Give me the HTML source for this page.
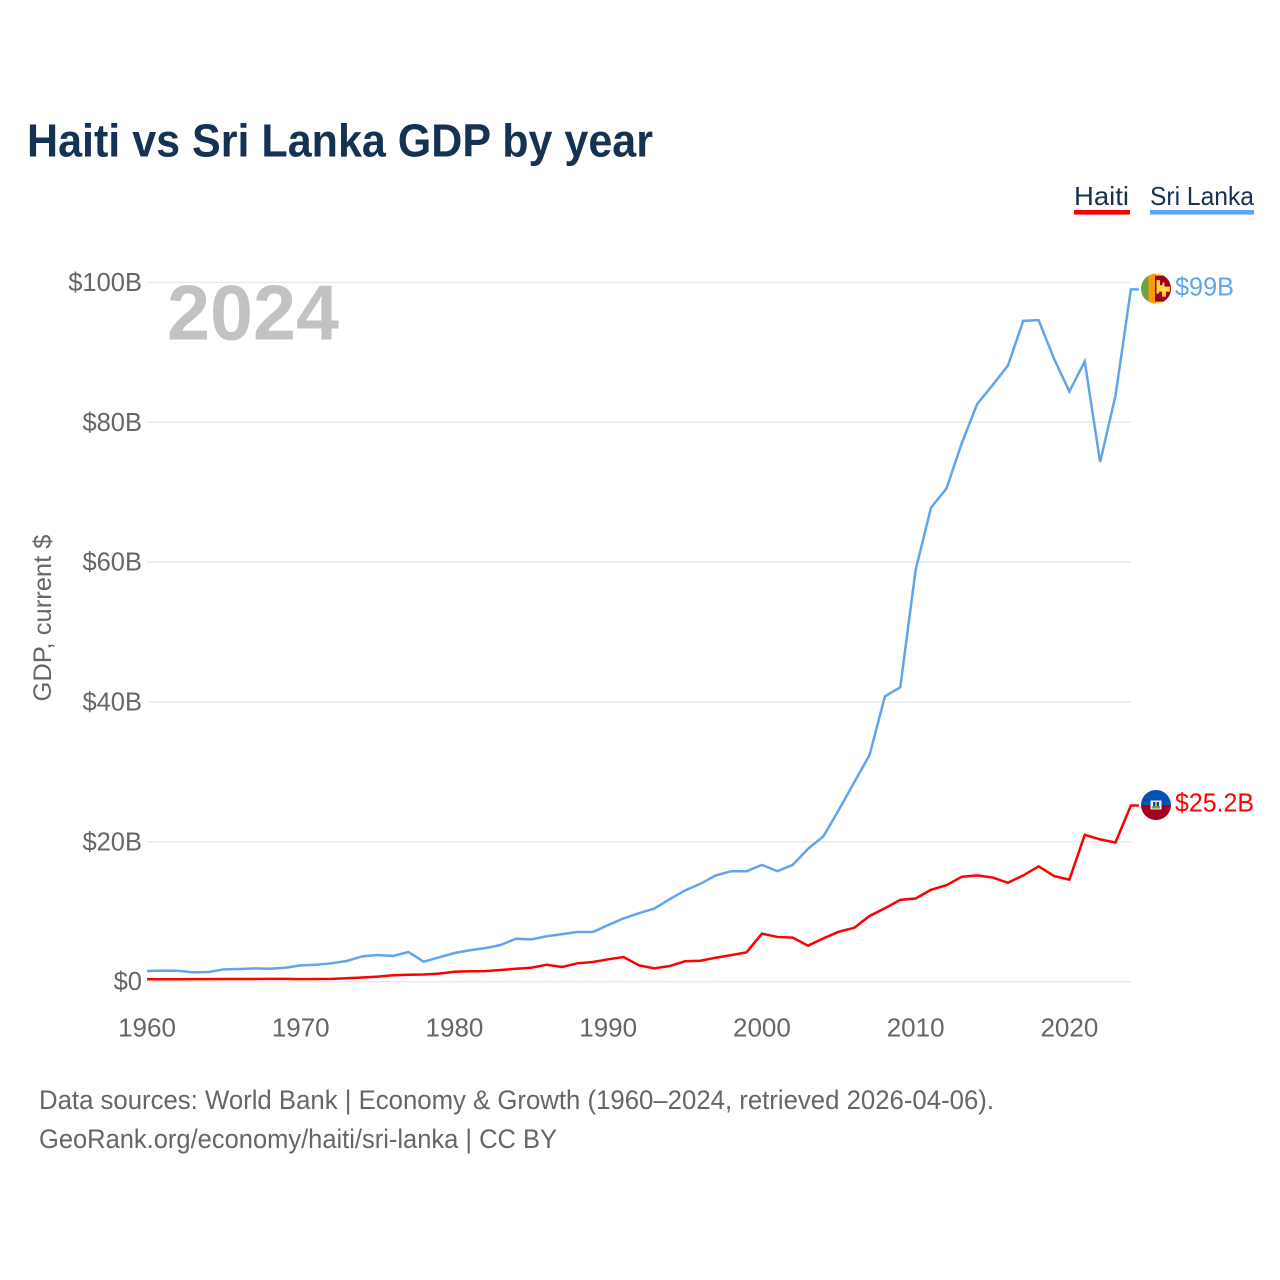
<!DOCTYPE html>
<html lang="en">
<head>
<meta charset="utf-8">
<title>Haiti vs Sri Lanka GDP by year</title>
<style>
html,body{margin:0;padding:0;background:#fff;}
svg{display:block;font-family:"Liberation Sans",sans-serif;}
</style>
</head>
<body>
<svg id="chart" xmlns="http://www.w3.org/2000/svg" width="1280" height="1280" viewBox="0 0 1280 1280">
  <defs>
    <clipPath id="flag-clip"><circle cx="0" cy="0" r="15"/></clipPath>
  </defs>
  <rect x="0" y="0" width="1280" height="1280" fill="#ffffff"/>
  <text x="27" y="156.5" font-size="46" font-weight="700" fill="#163253" textLength="626" lengthAdjust="spacingAndGlyphs">Haiti vs Sri Lanka GDP by year</text>

  <g>
    <g>
      <text x="1074" y="205" font-size="26" fill="#163253" textLength="55" lengthAdjust="spacingAndGlyphs">Haiti</text>
      <rect x="1074" y="210" width="56" height="4.6" fill="#ff0000"/>
    </g>
    <g>
      <text x="1150" y="205" font-size="26" fill="#163253" textLength="104" lengthAdjust="spacingAndGlyphs">Sri Lanka</text>
      <rect x="1150" y="210" width="104" height="4.6" fill="#60a5ec"/>
    </g>
  </g>

  <g id="grid"></g>
  <g id="y-ticks"></g>
  <g id="x-ticks"></g>
  <text transform="translate(51,618) rotate(-90)" text-anchor="middle" font-size="25" fill="#666666" textLength="167" lengthAdjust="spacingAndGlyphs">GDP, current $</text>
  <text id="year-label" x="167" y="339.5" font-size="78" font-weight="700" fill="#c2c2c2" textLength="172" lengthAdjust="spacingAndGlyphs">2024</text>
  <g id="series"></g>

  <g id="flag-sri-lanka">
    <g clip-path="url(#flag-clip)">
      <rect x="-15" y="-16" width="30" height="32" fill="#ffda44"/>
      <rect x="-15" y="-16" width="7.5" height="32" fill="#6da544"/>
      <rect x="-7.5" y="-16" width="7" height="32" fill="#ff9811"/>
      <rect x="-1" y="-13" width="16" height="26" fill="#a2001d"/>
      <path d="M0.5,-8.5H4V-3.5H6.5V-6H8.5V-2H14V3H10V8H6V3H3V5H0.5Z" fill="#ffda44"/>
    </g>
  </g>
  <g id="flag-haiti">
    <g clip-path="url(#flag-clip)">
      <rect x="-15" y="-16" width="30" height="16" fill="#0052b4"/>
      <rect x="-15" y="0" width="30" height="16" fill="#a2001d"/>
      <rect x="-5.5" y="-4.5" width="11" height="9" fill="#f0f0f0"/>
      <rect x="-3" y="-3" width="6" height="4.5" fill="#0052b4"/>
      <rect x="-1" y="-3" width="2" height="4.5" fill="#ff9811"/>
      <rect x="-4" y="1.5" width="8" height="2" fill="#6da544"/>
    </g>
  </g>
  <text id="value-sri-lanka" x="1175" font-size="26" fill="#60a5ec" textLength="59" lengthAdjust="spacingAndGlyphs">$99B</text>
  <text id="value-haiti" x="1175" font-size="26" fill="#ff0000" textLength="79" lengthAdjust="spacingAndGlyphs">$25.2B</text>

  <g>
    <text x="39" y="1109" font-size="27" fill="#666666" textLength="955" lengthAdjust="spacingAndGlyphs">Data sources: World Bank | Economy &amp; Growth (1960–2024, retrieved 2026-04-06).</text>
    <text x="39" y="1148" font-size="27" fill="#666666" textLength="518" lengthAdjust="spacingAndGlyphs">GeoRank.org/economy/haiti/sri-lanka | CC BY</text>
  </g>
</svg>
<script>
var startYear = 1960;
var xTickYears = [1960, 1970, 1980, 1990, 2000, 2010, 2020];
var yTickValues = [0, 20, 40, 60, 80, 100];
var yTickLabels = ["$0", "$20B", "$40B", "$60B", "$80B", "$100B"];
var sriLankaValues = [
  1.53, 1.58, 1.56, 1.34, 1.39, 1.77, 1.82, 1.91, 1.86, 2.0,
  2.34, 2.43, 2.63, 2.96, 3.63, 3.82, 3.68, 4.25, 2.86, 3.49,
  4.1, 4.5, 4.8, 5.25, 6.15, 6.05, 6.5, 6.8, 7.1, 7.1,
  8.1, 9.05, 9.8, 10.45, 11.8, 13.05, 14.0, 15.2, 15.8, 15.8,
  16.7, 15.8, 16.7, 19.0, 20.8, 24.55, 28.5, 32.4, 40.8, 42.1,
  58.9, 67.8, 70.5, 77.0, 82.6, 85.3, 88.1, 94.5, 94.6, 89.1,
  84.4, 88.7, 74.3, 83.8, 99.0
];
var haitiValues = [
  0.35, 0.35, 0.35, 0.36, 0.36, 0.38, 0.39, 0.39, 0.4, 0.41,
  0.36, 0.38, 0.41, 0.5, 0.6, 0.72, 0.92, 1.0, 1.03, 1.15,
  1.43, 1.5, 1.52, 1.67, 1.85, 2.0, 2.43, 2.1, 2.63, 2.82,
  3.2, 3.53, 2.34, 1.9, 2.24, 2.92, 3.0, 3.43, 3.8, 4.2,
  6.87, 6.4, 6.3, 5.15, 6.2, 7.15, 7.7, 9.4, 10.5, 11.7,
  11.9, 13.15, 13.8, 15.0, 15.2, 14.9, 14.15, 15.2, 16.5, 15.1,
  14.6, 21.0, 20.35, 19.9, 25.2
];

var SVG_NS = "http://www.w3.org/2000/svg";
function xScale(year) { return 147 + (year - 1960) * 15.373; }
function yScale(value) { return 981.7 - value * 6.993; }
function make(tag, attrs, parent) {
  var node = document.createElementNS(SVG_NS, tag);
  for (var key in attrs) { node.setAttribute(key, attrs[key]); }
  parent.appendChild(node);
  return node;
}
function linePoints(values) {
  var pts = values.map(function (v, i) {
    return xScale(startYear + i).toFixed(2) + "," + yScale(v).toFixed(2);
  });
  var lastY = yScale(values[values.length - 1]).toFixed(2);
  pts.push((xScale(startYear + values.length - 1) + 8).toFixed(2) + "," + lastY);
  return pts.join(" ");
}

var gridGroup = document.getElementById("grid");
var yTickGroup = document.getElementById("y-ticks");
var xTickGroup = document.getElementById("x-ticks");
var seriesGroup = document.getElementById("series");
var lastYear = startYear + sriLankaValues.length - 1;

yTickValues.forEach(function (value, i) {
  var line = make("line", {
    x1: 147, x2: xScale(lastYear), y1: yScale(value), y2: yScale(value),
    stroke: "#e8e8e8", "stroke-width": 1.4
  }, gridGroup);
  
  
  var label = make("text", {
    x: 142, y: yScale(value) + 8.5, "text-anchor": "end",
    "font-size": 25.5, fill: "#666666"
  }, yTickGroup);
  label.textContent = yTickLabels[i];
  
  
});

xTickYears.forEach(function (year) {
  var label = make("text", {
    x: xScale(year), y: 1036.5, "text-anchor": "middle",
    "font-size": 26, fill: "#666666"
  }, xTickGroup);
  label.textContent = String(year);
  
  
});

var sriLankaLine = make("polyline", {
  points: linePoints(sriLankaValues), fill: "none", stroke: "#60a5ec",
  "stroke-width": 2.5, "stroke-linejoin": "miter"
}, seriesGroup);



var haitiLine = make("polyline", {
  points: linePoints(haitiValues), fill: "none", stroke: "#ff0000",
  "stroke-width": 2.5, "stroke-linejoin": "miter"
}, seriesGroup);



var slEnd = yScale(sriLankaValues[sriLankaValues.length - 1]);
var htEnd = yScale(haitiValues[haitiValues.length - 1]);
document.getElementById("flag-sri-lanka").setAttribute("transform", "translate(1156," + (slEnd - 0.8) + ")");
document.getElementById("flag-haiti").setAttribute("transform", "translate(1156," + (htEnd - 0.5) + ")");
document.getElementById("value-sri-lanka").setAttribute("y", slEnd + 5.9);
document.getElementById("value-haiti").setAttribute("y", htEnd + 5.9);
</script>
</body>
</html>
